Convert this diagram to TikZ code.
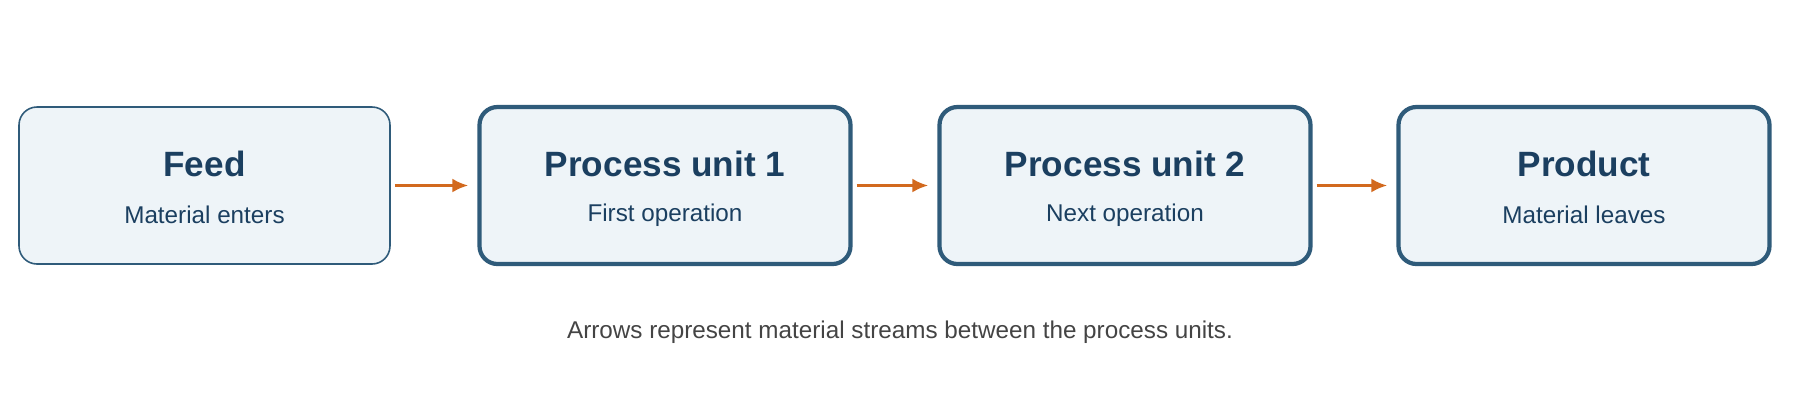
\documentclass[tikz,border=0pt]{standalone}
\usepackage{fontspec}
\setmainfont{Liberation Sans}
\usetikzlibrary{positioning}
\definecolor{boxline}{HTML}{2F5B7A}
\definecolor{boxfill}{HTML}{EEF4F8}
\definecolor{boxtext}{HTML}{1B3F60}
\definecolor{stream}{HTML}{D2691E}
\definecolor{note}{HTML}{444444}
\tikzset{
  unit/.style={draw=boxline, fill=boxfill, rounded corners=0.18cm, line width=1.2pt,
    minimum width=3.71cm, minimum height=1.57cm, inner sep=0pt},
  unitthin/.style={unit, line width=0.45pt},
  streamarrow/.style={draw=stream, line width=1.1pt, -{Latex[length=0.16cm,width=0.14cm]}}
}
\usetikzlibrary{arrows.meta}
\newcommand{\unittext}[3]{%
  \node[text=boxtext, font=\fontsize{10}{12}\selectfont\bfseries] at ([yshift=0.215cm]#1.center) {#2};
  \node[text=boxtext, font=\fontsize{6.9}{8}\selectfont] at ([yshift=-0.295cm]#1.center) {#3};}
\begin{document}
\begin{tikzpicture}
\useasboundingbox (0,0) rectangle (18,4);
\node[unitthin] (feed) at (2.045,2.145) {};
\node[unit] (pu1) at (6.65,2.145) {};
\node[unit] (pu2) at (11.25,2.145) {};
\node[unit] (prod) at (15.84,2.145) {};
\unittext{feed}{Feed}{Material enters}
\unittext{pu1}{Process unit 1}{First operation}
\unittext{pu2}{Process unit 2}{Next operation}
\unittext{prod}{Product}{Material leaves}
% material streams
\draw[streamarrow] ([xshift=0.04cm]feed.east) -- ([xshift=-0.09cm]pu1.west);
\draw[streamarrow] ([xshift=0.04cm]pu1.east) -- ([xshift=-0.09cm]pu2.west);
\draw[streamarrow] ([xshift=0.04cm]pu2.east) -- ([xshift=-0.09cm]prod.west);
\node[text=note, font=\fontsize{6.9}{8}\selectfont] (caption) at (9,0.68) {Arrows represent material streams between the process units.};
\end{tikzpicture}
\end{document}
